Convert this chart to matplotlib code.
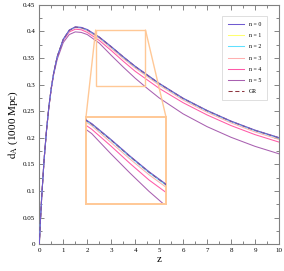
import matplotlib
matplotlib.use('Agg')
import matplotlib.pyplot as plt
import matplotlib.patches as patches
from matplotlib.patches import ConnectionPatch

plt.rcParams['font.family'] = ['Liberation Serif', 'DejaVu Serif']
plt.rcParams['mathtext.fontset'] = 'stix'

# redshift grid and d_A values (1000 Mpc)
z = [0, 0.05, 0.1, 0.2, 0.3, 0.4, 0.5, 0.6, 0.75, 1, 1.25, 1.5, 1.75, 2,
     2.5, 3, 3.5, 4, 4.5, 5, 6, 7, 8, 9, 10]

gr = [0, 0.047, 0.089, 0.159, 0.214, 0.259, 0.294, 0.322, 0.353, 0.385, 0.402,
      0.408, 0.407, 0.403, 0.389, 0.371, 0.352, 0.334, 0.318, 0.302, 0.274,
      0.251, 0.231, 0.214, 0.200]
n0 = [0, 0.047, 0.089, 0.159, 0.214, 0.259, 0.294, 0.322, 0.353, 0.3855, 0.4025,
      0.4085, 0.4075, 0.4035, 0.3895, 0.3715, 0.3525, 0.3345, 0.3185, 0.3025, 0.2745,
      0.2515, 0.2315, 0.2145, 0.2005]
n1 = [0, 0.047, 0.089, 0.159, 0.214, 0.259, 0.294, 0.322, 0.353, 0.385, 0.402,
      0.408, 0.407, 0.403, 0.389, 0.371, 0.352, 0.334, 0.318, 0.302, 0.274,
      0.251, 0.231, 0.214, 0.200]
n2 = [0, 0.047, 0.089, 0.159, 0.214, 0.259, 0.294, 0.322, 0.353, 0.3848, 0.4018,
      0.4077, 0.4066, 0.4026, 0.3885, 0.3705, 0.3514, 0.3334, 0.3174, 0.3014, 0.2734,
      0.2504, 0.2304, 0.2134, 0.1994]
n3 = [0, 0.047, 0.089, 0.159, 0.214, 0.259, 0.294, 0.322, 0.353, 0.384, 0.401,
      0.407, 0.406, 0.401, 0.387, 0.368, 0.349, 0.331, 0.315, 0.299, 0.271,
      0.248, 0.228, 0.211, 0.197]
n4 = [0, 0.047, 0.089, 0.159, 0.214, 0.258, 0.293, 0.321, 0.352, 0.383, 0.399,
      0.404, 0.403, 0.398, 0.383, 0.364, 0.344, 0.325, 0.309, 0.293, 0.266,
      0.243, 0.223, 0.206, 0.192]
n5 = [0, 0.047, 0.089, 0.159, 0.213, 0.257, 0.292, 0.319, 0.348, 0.379, 0.394,
      0.399, 0.398, 0.394, 0.378, 0.355, 0.333, 0.312, 0.293, 0.275, 0.245,
      0.221, 0.201, 0.184, 0.170]

series = [n0, n1, n2, n3, n4, n5]
labels = ['n = 0', 'n = 1', 'n = 2', 'n = 3', 'n = 4', 'n = 5']
colors = ['#6f5ad0', '#ffff70', '#60e0ff', '#ffb0b0', '#ff5aa8', '#a860b0']
orders = [5, 2, 3, 2, 2, 2]
gr_color = '#8e3640'

fig = plt.figure(figsize=(2.84, 2.71), dpi=100)
ax = fig.add_axes([0.1384, 0.0985, 0.844, 0.884])

for vals, lab, col, zo in zip(series, labels, colors, orders):
    ax.plot(z, vals, color=col, lw=0.75, label=lab, zorder=zo)
ax.plot(z, gr, color=gr_color, lw=0.75, ls=(0, (4, 2.5)), label='GR', zorder=4)

ax.set_xlim(0, 10)
ax.set_ylim(0, 0.45)
ax.set_xticks(range(0, 11))
ax.set_xticks([i + 0.5 for i in range(10)], minor=True)
ax.set_yticks([0, 0.05, 0.1, 0.15, 0.2, 0.25, 0.3, 0.35, 0.4, 0.45])
ax.set_yticklabels(['0', '0.05', '0.1', '0.15', '0.2', '0.25', '0.3', '0.35', '0.4', '0.45'])
ax.set_yticks([0.025 + 0.05 * i for i in range(9)], minor=True)
ax.tick_params(which='both', direction='in', top=True, right=True,
               labelsize=5, color='#707070', width=0.6, pad=3)
ax.tick_params(which='major', length=3.5)
ax.tick_params(which='minor', length=2)
for s in ax.spines.values():
    s.set_color('#808080')
    s.set_linewidth(0.8)

ax.set_xlabel('z', fontsize=8, labelpad=1)
ax.set_ylabel(r'$\mathrm{d}_\mathrm{A}$ (1000 Mpc)', fontsize=8, labelpad=2)

leg = ax.legend(loc='upper right', bbox_to_anchor=(0.95, 0.953), borderaxespad=0,
                fontsize=4.2, frameon=True, fancybox=False, handlelength=2.8,
                labelspacing=1.05, borderpad=1.0, handletextpad=0.8)
leg.get_frame().set_edgecolor('#d0d0d0')
leg.get_frame().set_linewidth(0.6)

# zoom box on the main axes
zx0, zx1, zy0, zy1 = 2.35, 4.43, 0.298, 0.4025
orange = '#ffc896'
ax.add_patch(patches.Rectangle((zx0, zy0), zx1 - zx0, zy1 - zy0, fill=False,
                               edgecolor=orange, lw=1.0, zorder=6))

axins = fig.add_axes([0.3028, 0.2461, 0.2817, 0.3221])
for vals, col, zo in zip(series, colors, orders):
    axins.plot(z, vals, color=col, lw=0.75, zorder=zo)
axins.plot(z, gr, color=gr_color, lw=0.75, ls=(0, (4, 2.5)), zorder=4)
axins.set_xlim(2.35, 4.45)
axins.set_ylim(0.297, 0.397)
axins.set_xticks([])
axins.set_yticks([])
for s in axins.spines.values():
    s.set_color(orange)
    s.set_linewidth(1.4)

for xa, xb in [(zx0, 0), (zx1, 1)]:
    con = ConnectionPatch(xyA=(xa, zy1), coordsA='data', axesA=ax,
                          xyB=(xb, 1), coordsB='axes fraction', axesB=axins,
                          color=orange, lw=1.0)
    fig.add_artist(con)

fig.savefig('out.png', dpi=100)
